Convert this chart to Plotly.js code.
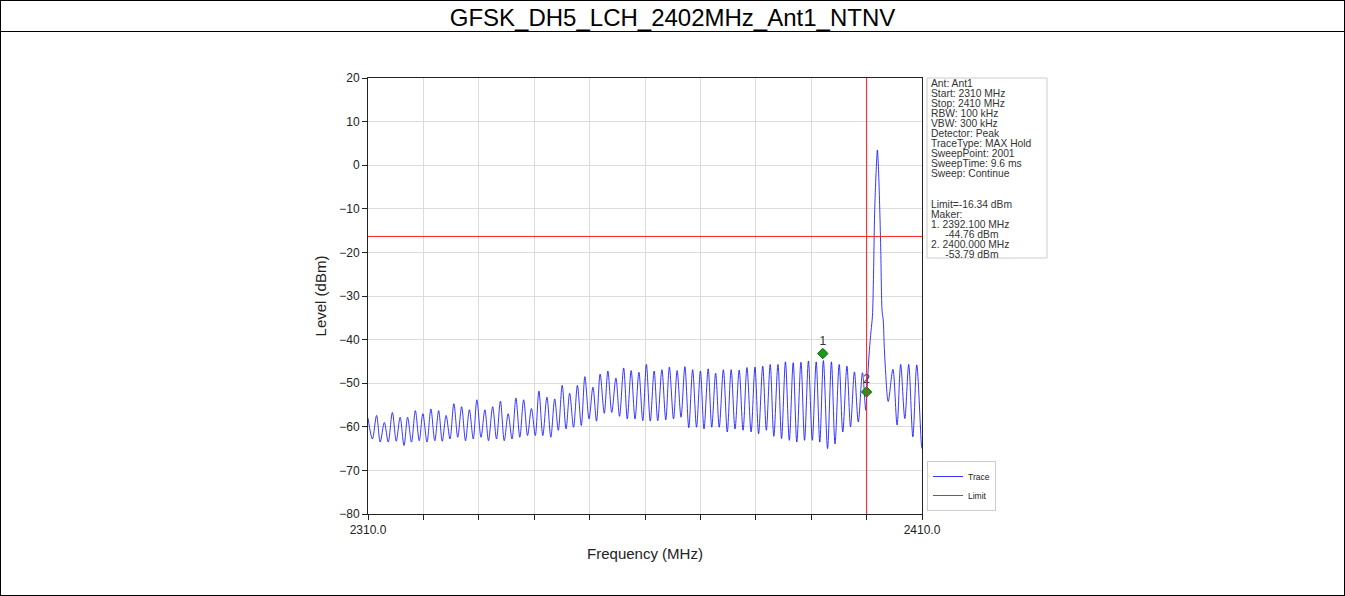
<!DOCTYPE html>
<html>
<head>
<meta charset="utf-8">
<script src="https://cdn.plot.ly/plotly-3.0.1.min.js"></script>
<style>
  html, body { margin: 0; padding: 0; background: #fff; }
  #wrap { position: relative; width: 1345px; height: 596px; overflow: hidden; }
  #chart { position: absolute; left: 0; top: 0; width: 1345px; height: 596px; }
  #frame { position: absolute; left: 0; top: 0; width: 1345px; height: 596px; box-sizing: border-box; border: 1px solid #000; pointer-events: none; }
  #sep { position: absolute; left: 0; top: 31px; width: 1345px; height: 1px; background: #000; pointer-events: none; }
</style>
</head>
<body>
<div id="wrap">
  <div id="chart"></div>
  <div id="frame"></div>
  <div id="sep"></div>
</div>
<script>
// ---------------- data ----------------
const chartTitle = 'GFSK_DH5_LCH_2402MHz_Ant1_NTNV';

const freqMHz = [
  2310.0, 2310.8, 2311.55, 2312.2, 2312.95, 2313.65, 2314.4, 2315.1, 2315.8, 2316.5,
  2317.15, 2317.85, 2318.55, 2319.25, 2319.9, 2320.65, 2321.35, 2322.05, 2322.75, 2323.4,
  2324.1, 2324.8, 2325.5, 2326.2, 2326.9, 2327.6, 2328.3, 2329.0, 2329.65, 2330.4,
  2331.1, 2331.75, 2332.5, 2333.2, 2333.9, 2334.6, 2335.3, 2336.0, 2336.7, 2337.4,
  2338.1, 2338.8, 2339.5, 2340.2, 2340.85, 2341.55, 2342.3, 2343.0, 2343.7, 2344.35,
  2345.05, 2345.75, 2346.4, 2347.1, 2347.8, 2348.5, 2349.15, 2349.9, 2350.6, 2351.25,
  2351.9, 2352.65, 2353.3, 2354.0, 2354.75, 2355.4, 2356.15, 2356.8, 2357.5, 2358.2,
  2358.9, 2359.6, 2360.25, 2360.95, 2361.65, 2362.3, 2363.05, 2363.75, 2364.4, 2365.15,
  2365.8, 2366.5, 2367.2, 2367.9, 2368.6, 2369.3, 2370.0, 2370.65, 2371.4, 2372.05,
  2372.75, 2373.4, 2374.15, 2374.85, 2375.55, 2376.25, 2377.0, 2377.7, 2378.4, 2379.15,
  2379.85, 2380.5, 2381.25, 2381.9, 2382.6, 2383.25, 2384.0, 2384.65, 2385.35, 2386.05,
  2386.75, 2387.4, 2388.15, 2388.8, 2389.5, 2390.2, 2390.9, 2391.55, 2392.2, 2392.95,
  2393.65, 2394.3, 2395.05, 2395.7, 2396.45, 2397.1, 2397.8, 2398.5, 2399.25, 2399.85,
  2400.05, 2400.3, 2400.5, 2400.8, 2401.05, 2401.25, 2401.45, 2401.7, 2401.95, 2402.15,
  2402.35, 2402.55, 2402.8, 2403.0, 2403.2, 2403.4, 2403.9, 2404.75, 2405.5, 2406.15,
  2406.9, 2407.6, 2408.35, 2409.05, 2409.9, 2410.0
];
const levelDbm = [
  -58.0, -62.8, -57.4, -63.5, -59.0, -63.5, -56.7, -63.3, -57.8, -64.3,
  -57.8, -63.5, -56.3, -63.2, -57.0, -63.5, -55.9, -63.2, -56.3, -63.3,
  -57.4, -62.8, -54.7, -62.4, -55.4, -63.2, -56.1, -62.8, -53.8, -62.4,
  -56.1, -63.2, -55.4, -62.8, -54.1, -63.2, -57.0, -62.8, -53.4, -62.4,
  -53.8, -62.0, -55.8, -62.0, -51.8, -62.0, -53.2, -62.4, -53.6, -60.8,
  -50.5, -60.5, -52.3, -60.1, -50.5, -59.7, -48.5, -58.2, -50.9, -58.7,
  -47.9, -56.9, -47.2, -56.7, -48.8, -57.6, -46.5, -58.2, -47.1, -58.2,
  -47.5, -58.6, -45.7, -58.7, -47.2, -58.6, -46.9, -58.4, -46.3, -58.2,
  -47.1, -57.8, -46.2, -60.2, -46.9, -60.1, -47.2, -60.5, -46.7, -60.1,
  -47.7, -60.1, -46.9, -61.2, -46.9, -60.5, -47.0, -60.8, -46.4, -61.2,
  -46.3, -61.6, -46.1, -60.8, -45.7, -62.2, -45.7, -62.7, -45.1, -63.1,
  -45.3, -63.5, -45.2, -63.1, -44.9, -63.1, -45.1, -63.5, -44.8, -65.0,
  -45.1, -63.9, -45.7, -61.2, -46.1, -60.0, -47.4, -58.9, -47.6, -56.2,
  -52.0, -46.5, -42.5, -38.0, -34.7, -25.0, -11.0, -2.0, 3.5, -1.0,
  -9.0, -19.0, -33.5, -35.5, -42.0, -46.8, -54.2, -46.8, -59.6, -45.7,
  -58.1, -45.7, -62.3, -45.8, -64.2, -65.0
];

const limitDbm = -16.34;
const limitFreq = [2310, 2410];
const limitLevel = [limitDbm, limitDbm];
const edgeFreqMHz = 2400;

const markerFreq = [2392.1, 2400.0];
const markerLevel = [-43.2, -52.0];
const markerLabels = ['1', '2'];

const xTickVals = [2310, 2320, 2330, 2340, 2350, 2360, 2370, 2380, 2390, 2400, 2410];
const xTickText = ['2310.0', '', '', '', '', '', '', '', '', '', '2410.0'];
const yTickVals = [20, 10, 0, -10, -20, -30, -40, -50, -60, -70, -80];

const infoLines = [
  'Ant: Ant1', 'Start: 2310 MHz', 'Stop: 2410 MHz', 'RBW: 100 kHz', 'VBW: 300 kHz',
  'Detector: Peak', 'TraceType: MAX Hold', 'SweepPoint: 2001', 'SweepTime: 9.6 ms',
  'Sweep: Continue', '', '', 'Limit=-16.34 dBm', 'Maker:', '1. 2392.100 MHz',
  '\u00a0\u00a0\u00a0\u00a0\u00a0-44.76 dBm', '2. 2400.000 MHz', '\u00a0\u00a0\u00a0\u00a0\u00a0-53.79 dBm'
];

// ---------------- layout geometry (pixels) ----------------
const W = 1345, H = 596;
const PL = 368, PR = 922, PT = 78, PB = 514;
const pw = PR - PL, ph = PB - PT;
const px2x = p => (p - PL) / pw;
const px2y = p => (PB - p) / ph;

const FONT = 'Liberation Sans, Arial, Helvetica, sans-serif';

const traces = [
  {
    x: freqMHz, y: levelDbm, type: 'scatter', mode: 'lines', name: 'Trace',
    line: { color: 'rgba(20,20,255,0.85)', width: 1, shape: 'spline', smoothing: 0.9 },
    hoverinfo: 'x+y'
  },
  {
    x: limitFreq, y: limitLevel, type: 'scatter', mode: 'lines', name: 'Limit',
    line: { color: '#ff2020', width: 1 }
  },
  {
    x: markerFreq, y: markerLevel, type: 'scatter', mode: 'markers+text', name: 'Markers',
    showlegend: false, text: markerLabels, textposition: 'top center',
    textfont: { family: FONT, size: 12, color: '#333' },
    marker: { symbol: 'diamond', size: 8, color: '#1a9a1a', line: { color: '#0b6b0b', width: 1 } }
  }
];

const shapes = [
  { type: 'line', xref: 'x', yref: 'paper', x0: edgeFreqMHz, x1: edgeFreqMHz, y0: 0, y1: 1,
    line: { color: '#ff2020', width: 1 } },
  { type: 'rect', xref: 'paper', yref: 'paper', x0: px2x(927), x1: px2x(1047), y0: px2y(258), y1: px2y(78),
    line: { color: '#cccccc', width: 1 }, fillcolor: '#ffffff', layer: 'below' }
];

const annotations = infoLines.map((t, i) => ({
  xref: 'paper', yref: 'paper', x: px2x(930), y: px2y(83.5 + 10.05 * i),
  xanchor: 'left', yanchor: 'middle', showarrow: false, text: t,
  font: { family: FONT, size: 10.3, color: '#333' }, borderpad: 0
}));

const axisCommon = {
  showline: true, mirror: true, linecolor: '#222', linewidth: 1,
  ticks: 'outside', ticklen: 5, tickcolor: '#222', tickwidth: 1,
  showgrid: true, gridcolor: '#dcdcdc', gridwidth: 1, zeroline: false,
  tickfont: { family: FONT, size: 12, color: '#222' }
};

const layout = {
  width: W, height: H,
  margin: { l: PL, r: W - PR, t: PT, b: H - PB, pad: 0 },
  paper_bgcolor: 'rgba(0,0,0,0)', plot_bgcolor: '#ffffff',
  font: { family: FONT, color: '#222' },
  title: {
    text: chartTitle, font: { family: FONT, size: 24, color: '#000' },
    x: 0.5, xref: 'container', xanchor: 'center', y: 1 - 18 / H, yref: 'container', yanchor: 'middle'
  },
  xaxis: Object.assign({}, axisCommon, {
    range: [2310, 2410], tickmode: 'array', tickvals: xTickVals, ticktext: xTickText,
    title: { text: 'Frequency (MHz)', font: { family: FONT, size: 15, color: '#222' }, standoff: 12 }
  }),
  yaxis: Object.assign({}, axisCommon, {
    range: [-80, 20], tickmode: 'array', tickvals: yTickVals,
    title: { text: 'Level (dBm)', font: { family: FONT, size: 15, color: '#222' }, standoff: 8 }
  }),
  showlegend: true,
  legend: {
    x: px2x(927), y: px2y(511), xanchor: 'left', yanchor: 'bottom',
    bgcolor: '#ffffff', bordercolor: '#cccccc', borderwidth: 1,
    font: { family: FONT, size: 8.5, color: '#222' }, tracegroupgap: 0, itemwidth: 30
  },
  shapes: shapes,
  annotations: annotations
};

Plotly.newPlot('chart', traces, layout, { displayModeBar: false, staticPlot: true });
</script>
</body>
</html>
